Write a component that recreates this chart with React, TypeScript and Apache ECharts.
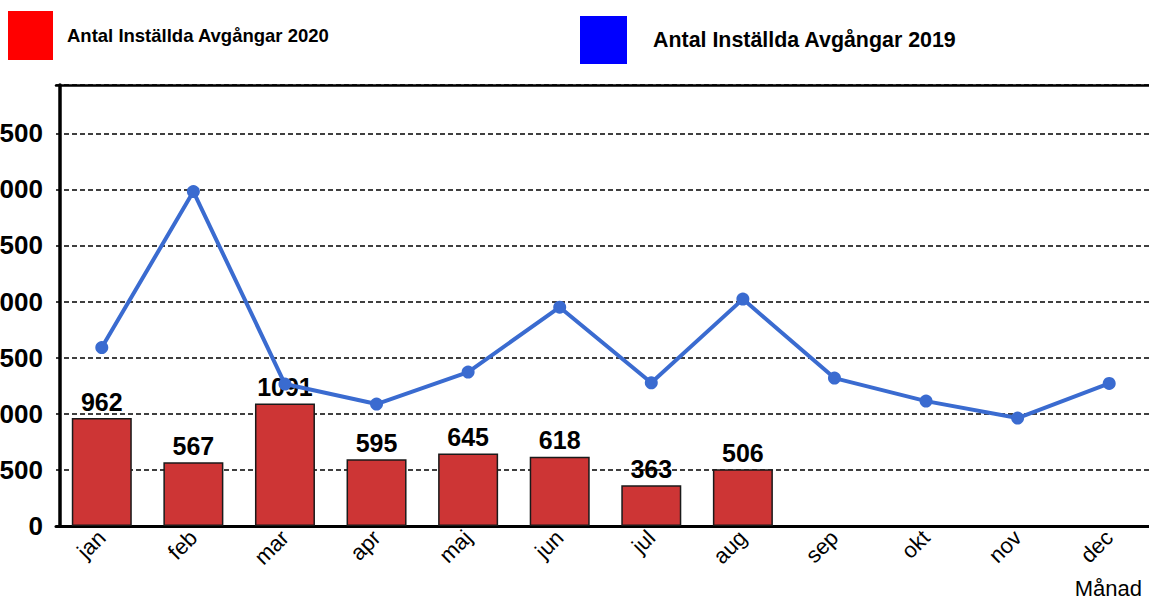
import React, { useEffect, useRef } from "react";
import * as echarts from "echarts";

const months = ["jan", "feb", "mar", "apr", "maj", "jun", "jul", "aug", "sep", "okt", "nov", "dec"];
const cancelled2020 = [962, 567, 1091, 595, 645, 618, 363, 506];
const cancelled2019 = [1590, 2980, 1265, 1087, 1372, 1950, 1276, 2022, 1318, 1113, 962, 1271];
const name2020 = "Antal Inställda Avgångar 2020";
const name2019 = "Antal Inställda Avgångar 2019";
const xTitle = "Månad";

const FONT = "'Liberation Sans', Arial, sans-serif";

export default function App() {
  const ref = useRef<HTMLDivElement>(null);
  useEffect(() => {
    if (!ref.current) return;
    const chart = echarts.init(ref.current, null, { renderer: "svg" });
    chart.setOption({
      animation: false,
      textStyle: { fontFamily: FONT },
      legend: [
        {
          data: [{ name: name2020, icon: "rect", itemStyle: { color: "#ff0000", borderWidth: 0 } }],
          left: 8,
          top: 11,
          padding: 0,
          itemWidth: 45,
          itemHeight: 49,
          selectedMode: false,
          textStyle: { fontSize: 18.5, fontWeight: "bold", color: "#000", fontFamily: FONT, padding: [0, 0, 11, 9] },
        },
        {
          data: [{ name: name2019, icon: "rect", itemStyle: { color: "#0000ff", borderWidth: 0 } }],
          left: 580,
          top: 16,
          padding: 0,
          itemWidth: 47,
          itemHeight: 48,
          selectedMode: false,
          textStyle: { fontSize: 21.4, fontWeight: "bold", color: "#000", fontFamily: FONT, padding: [0, 0, 0, 21] },
        },
      ],
      grid: { left: 56, right: -6, top: 85, bottom: 75, containLabel: false, outerBoundsMode: "none" },
      xAxis: [
        {
          type: "category",
          data: months,
          boundaryGap: true,
          axisLine: { show: true, lineStyle: { color: "#000", width: 3 } },
          axisTick: { show: false },
          axisLabel: { rotate: 45, margin: 8, fontSize: 22, color: "#000", fontFamily: FONT },
        },
        {
          type: "category",
          data: months,
          position: "top",
          axisLine: { show: true, lineStyle: { color: "#000", width: 2.5 } },
          axisTick: { show: false },
          axisLabel: { show: false },
        },
      ],
      yAxis: {
        type: "value",
        min: 0,
        max: 3930,
        interval: 500,
        offset: -4,
        axisLine: { show: true, lineStyle: { color: "#000", width: 3.5 } },
        axisTick: { show: false },
        axisLabel: {
          margin: 17,
          fontSize: 26,
          fontWeight: "bold",
          color: "#000",
          fontFamily: FONT,
          showMaxLabel: false,
          formatter: (v: number) => String(v),
        },
        splitLine: { show: true, lineStyle: { color: "#000", width: 1.5, type: [5, 3] } },
      },
      series: [
        {
          name: name2020,
          type: "bar",
          data: cancelled2020,
          barWidth: 60,
          itemStyle: { color: "#cd3535", borderColor: "#1a1a1a", borderWidth: 1.5 },
          label: { show: true, position: "top", distance: 4, fontSize: 25, fontWeight: "bold", color: "#000", fontFamily: FONT },
        },
        {
          name: name2019,
          type: "line",
          data: cancelled2019,
          z: 5,
          symbol: "circle",
          symbolSize: 13,
          itemStyle: { color: "#3a6bd0" },
          lineStyle: { color: "#3a6bd0", width: 4 },
        },
      ],
      graphic: [
        {
          type: "text",
          right: 7,
          top: 577,
          style: { text: xTitle, fontSize: 22, fill: "#000", fontFamily: FONT },
        },
      ],
    });
    return () => chart.dispose();
  }, []);
  return <div ref={ref} style={{ position: "absolute", left: 0, top: 0, width: 1149, height: 601 }} />;
}
